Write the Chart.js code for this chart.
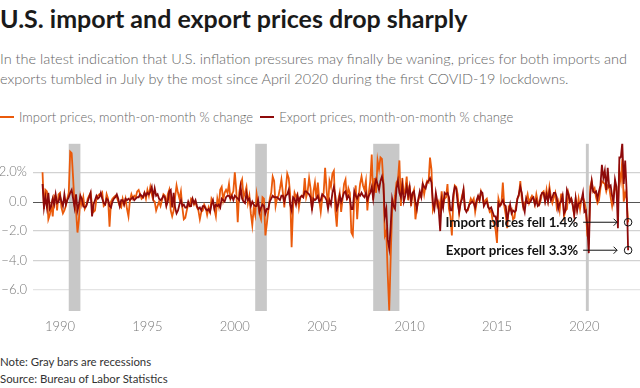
<!DOCTYPE html>
<html><head><meta charset="utf-8">
<script src="https://cdn.jsdelivr.net/npm/chart.js@4"></script>
<style>
html,body{margin:0;padding:0;background:#fff;}
body{width:640px;height:388px;position:relative;overflow:hidden;font-family:Lato, sans-serif;}
#title{position:absolute;left:0;top:3px;font-size:25px;font-weight:700;color:#1a1a1a;white-space:nowrap;}
#sub{position:absolute;left:0;top:49px;font-size:14.5px;font-weight:300;color:#666;line-height:20px;white-space:nowrap;}
#legend{position:absolute;left:0;top:109px;font-size:13px;font-weight:300;color:#666;white-space:nowrap;display:flex;}
.li{display:inline-flex;align-items:center;margin-right:7px}
.sw{display:inline-block;width:14px;height:2px;margin-right:5px}
#notes{position:absolute;left:0;top:353px;font-size:11.4px;color:#333;line-height:17px}
#wrap{position:absolute;left:0;top:130px;width:640px;height:215px}
</style></head>
<body>
<div id="title">U.S. import and export prices drop sharply</div>
<div id="sub">In the latest indication that U.S. inflation pressures may finally be waning, prices for both imports and<br>exports tumbled in July by the most since April 2020 during the first COVID-19 lockdowns.</div>
<div id="legend">
 <span class="li"><span class="sw" style="background:#ea5a0b"></span>Import prices, month-on-month % change</span>
 <span class="li"><span class="sw" style="background:#8e0a0a"></span>Export prices, month-on-month % change</span>
</div>
<div id="wrap"><canvas id="c" width="640" height="215"></canvas></div>
<div id="notes">Note: Gray bars are recessions<br>Source: Bureau of Labor Statistics</div>
<script>
// ---- DATA ----
const startMonth = "1989-01"; // first observation, monthly through July 2022
const importPrices = [
 2.0,-0.5,0.8,0.7,-1.2,-0.9,-0.2,-1.0,0.4,0.3,-0.6,0.5,      // 1989
 0.6,-0.4,-0.8,-0.6,-0.3,0.2,0.6,3.4,3.3,1.6,-0.3,-0.6,      // 1990
 -2.1,-1.2,0.3,-0.2,0.3,-0.5,-0.3,0.2,0.4,0.6,-0.2,-0.7,     // 1991
 -0.6,0.2,0.4,0.5,0.4,0.6,-0.3,-0.2,0.5,0.2,-1.7,0.0,        // 1992
 0.2,0.3,0.4,0.3,0.0,-0.3,-0.4,0.2,-0.2,0.2,-0.5,-1.0,       // 1993
 0.1,0.5,0.2,0.4,0.3,0.7,0.8,0.5,0.2,0.3,0.6,0.2,            // 1994
 0.8,0.4,1.0,0.5,0.1,0.0,-0.6,-0.3,0.0,-0.3,0.1,0.5,         // 1995
 0.4,-0.2,0.5,0.8,-0.6,-1.0,-0.6,0.3,1.1,0.6,0.2,0.7,        // 1996
 -0.4,-1.2,-1.1,-0.6,-0.2,-0.3,0.2,0.1,-0.2,0.0,-0.4,-0.6,   // 1997
 -1.2,-0.7,-0.6,-0.2,-0.4,-0.9,-0.4,-0.7,0.2,0.0,-0.5,-1.0,  // 1998
 0.2,-0.3,0.8,1.0,0.1,0.6,0.8,0.6,1.2,0.2,0.5,0.7,           // 1999
 2.0,0.8,-1.4,0.6,1.2,1.5,0.3,0.6,1.0,-0.1,0.4,-0.8,         // 2000
 -1.6,-0.4,-0.9,0.5,-0.2,-0.9,-1.2,0.3,0.2,-2.3,-1.5,-0.6,   // 2001
 0.2,0.6,1.7,1.4,-0.3,0.2,0.4,0.9,1.5,0.6,-0.4,0.9,          // 2002
 1.9,1.6,0.5,-3.1,-0.4,0.6,0.3,0.5,-0.4,0.3,0.4,0.3,         // 2003
 1.6,0.3,0.7,1.6,0.9,-0.6,0.7,1.3,0.2,1.3,0.1,-0.7,          // 2004
 0.2,0.6,2.3,0.8,-0.4,1.4,1.0,1.9,2.1,-0.6,-1.7,0.1,         // 2005
 0.6,-0.7,0.2,1.2,1.5,0.1,0.9,0.6,-2.1,-2.3,0.3,1.1,         // 2006
 -1.2,0.3,1.2,1.7,1.1,0.8,1.4,-0.6,0.6,1.4,3.2,0.1,          // 2007
 1.6,0.6,2.8,2.2,3.0,2.9,1.3,-2.3,-2.0,-5.0,-7.4,-3.8,       // 2008
 -0.6,-0.2,0.4,1.3,1.5,2.8,-0.3,1.6,0.5,0.8,1.7,0.1,         // 2009
 1.1,-0.3,0.5,0.8,-1.2,-0.4,0.1,0.4,0.3,1.2,0.5,1.1,         // 2010
 1.4,1.3,3.0,2.2,-0.6,-0.3,0.3,-0.3,0.0,-0.6,0.7,-0.2,       // 2011
 0.2,0.3,1.2,-0.5,-1.0,-2.3,0.0,1.1,1.0,0.5,-0.8,-0.1,       // 2012
 0.4,0.8,-0.5,-0.6,-0.6,-0.2,0.2,0.0,0.2,-0.7,-0.1,0.3,      // 2013
 0.1,0.7,0.4,-0.2,0.1,0.2,-0.3,-0.7,-0.6,-1.3,-1.5,-1.9,     // 2014
 -2.8,0.2,-0.2,-0.2,1.3,-0.3,-0.9,-1.8,-0.4,-0.6,-0.5,-1.2,  // 2015
 -1.1,-0.3,0.2,0.4,1.4,0.2,-0.4,-0.1,0.1,0.5,-0.1,0.2,       // 2016
 0.4,0.2,-0.2,0.5,0.0,-0.2,0.1,0.6,0.7,0.1,0.8,0.1,          // 2017
 1.0,0.3,-0.1,0.3,0.6,-0.4,0.0,-0.6,0.5,0.5,-1.0,-0.6,       // 2018
 -0.5,0.6,0.2,0.2,-0.3,-0.9,0.2,-0.5,0.2,-0.5,0.2,0.3,       // 2019
 0.0,-0.5,-2.3,-2.6,1.0,1.4,0.7,0.9,0.3,-0.1,0.1,0.9,        // 2020
 1.4,1.3,1.2,0.7,1.1,1.0,0.3,-0.3,0.4,1.2,0.7,-0.2,          // 2021
 2.0,1.4,2.9,0.0,0.6,0.2,-1.4                                // 2022
];
const exportPrices = [
 1.2,-0.4,0.3,-0.4,0.6,-0.5,-0.3,0.2,-0.2,0.5,-0.1,0.0,      // 1989
 0.4,0.0,-0.3,0.5,-0.2,0.1,0.3,0.6,0.8,0.2,-0.4,0.5,         // 1990
 -0.6,-0.2,0.4,0.2,-0.3,-0.4,-0.3,0.0,0.3,0.6,-1.0,-0.2,     // 1991
 0.1,0.4,0.2,0.3,0.6,0.2,-0.1,-0.2,0.2,0.1,-0.3,-0.4,        // 1992
 0.0,0.2,0.3,0.5,0.2,-0.3,0.1,0.1,-0.2,0.2,0.1,0.2,          // 1993
 0.1,0.2,0.3,0.1,0.2,0.3,0.3,0.5,0.4,0.3,0.6,0.4,            // 1994
 0.6,0.5,0.7,1.0,0.3,0.9,0.4,0.5,0.2,0.1,0.2,0.4,            // 1995
 0.3,-0.3,0.0,0.7,0.8,-0.4,0.6,-0.4,-0.8,-0.6,-0.2,0.1,      // 1996
 -0.3,-0.2,-0.4,-0.4,0.0,-0.3,-0.3,0.2,-0.1,0.1,-0.3,-0.5,   // 1997
 -0.4,-0.6,-0.3,-0.3,-0.5,-0.6,-0.5,-0.7,-0.2,0.1,-0.5,-0.2, // 1998
 -0.3,-0.2,-0.4,0.2,0.1,0.0,0.3,0.4,0.4,0.2,0.4,0.1,         // 1999
 0.4,0.3,0.2,0.1,1.0,0.2,0.0,-0.1,0.6,0.1,0.2,-0.3,          // 2000
 0.0,-0.2,-0.3,-0.3,0.1,-0.7,-0.4,-0.2,-0.3,-0.8,-0.5,-0.5,  // 2001
 0.0,0.2,0.4,0.3,0.3,0.3,0.2,0.1,0.4,0.4,0.0,0.4,            // 2002
 0.5,0.8,-0.2,-0.6,0.3,0.2,-0.2,0.4,0.0,0.3,0.4,0.3,         // 2003
 0.7,0.7,0.6,0.5,0.3,-0.5,0.2,0.1,0.2,0.4,0.0,0.1,           // 2004
 0.5,0.4,0.3,0.1,-0.5,0.1,-0.2,0.6,1.0,0.4,-0.5,-0.2,        // 2005
 0.4,0.0,0.3,0.6,0.7,0.2,0.4,0.2,-0.5,-0.5,0.7,0.4,          // 2006
 0.2,0.5,0.4,0.6,0.4,0.3,0.6,0.1,0.4,0.6,1.0,0.2,            // 2007
 1.1,1.5,1.2,0.8,1.4,1.7,1.2,-1.0,-0.5,-2.6,-3.2,-1.7,       // 2008
 0.2,-0.3,-0.5,0.9,1.4,0.6,0.3,1.1,0.0,0.4,1.0,0.4,          // 2009
 1.0,0.0,0.6,0.7,0.0,-0.5,0.2,0.7,0.3,1.2,1.0,0.9,           // 2010
 1.3,1.4,1.6,1.3,-0.1,-0.5,0.6,0.0,-0.6,-2.0,0.1,-0.4,       // 2011
 0.6,0.5,0.6,0.3,-0.6,-0.6,0.5,1.0,0.9,-0.1,-0.7,-0.1,       // 2012
 0.2,0.8,-0.5,-0.7,-0.5,-0.2,-0.1,0.0,-0.1,-0.4,0.1,0.4,     // 2013
 0.1,0.7,0.6,-0.3,-0.1,0.0,-0.4,-0.5,-0.4,-0.7,-1.0,-1.0,    // 2014
 -1.6,-0.1,-0.3,-0.1,0.1,-0.2,-0.3,-1.3,-0.7,-0.2,-0.8,-0.6, // 2015
 -0.7,-0.6,0.2,0.5,1.0,0.6,-0.3,-0.7,0.2,-0.1,-0.1,0.0,      // 2016
 0.2,0.3,-0.2,0.1,-0.3,-0.2,0.4,0.6,0.6,0.0,0.5,0.0,         // 2017
 0.7,0.1,0.3,0.6,0.6,0.3,-0.5,-0.1,0.0,0.4,-0.8,-0.6,        // 2018
 0.8,0.5,0.0,0.2,-0.2,-0.9,0.2,-0.6,-0.1,-0.1,0.1,0.6,       // 2019
 -0.7,-0.6,-1.6,-3.5,0.5,1.4,0.7,0.6,0.7,0.2,0.7,1.1,        // 2020
 2.5,1.6,2.1,0.8,2.3,1.0,1.1,0.4,0.0,1.5,1.0,-1.8,           // 2021
 3.0,3.0,4.0,1.2,2.8,0.7,-3.3                                // 2022
];
const recessionStarts = ["1990-07","2001-03","2007-12","2020-02"];
const recessionEnds   = ["1991-03","2001-11","2009-06","2020-04"];
const xTickValues = [1990,1995,2000,2005,2010,2015,2020];
const xTickLabels = ["1990","1995","2000","2005","2010","2015","2020"];
const yTickValues = [-6,-4,-2,0,2];
const yTickLabels = ["\u22126.0","\u22124.0","\u22122.0","0.0","2.0%"];
const annotations = [
  {series:"import", text:"Import prices fell 1.4%"},
  {series:"export", text:"Export prices fell 3.3%"}
];
const seriesNames = {import:"Import prices, month-on-month % change", export:"Export prices, month-on-month % change"};

// ---- helpers ----
const IMPORT_COLOR = "#ea5a0b", EXPORT_COLOR = "#8e0a0a";
function ymToDec(s){ const [y,m] = s.split("-").map(Number); return y + (m-1)/12; }
const start = ymToDec(startMonth);
const xOf = i => start + i/12;
const importPts = importPrices.map((v,i)=>({x:xOf(i), y:v}));
const exportPts = exportPrices.map((v,i)=>({x:xOf(i), y:v}));
const seriesPts = {import:importPts, export:exportPts};

const bandsPlugin = {
  id:'bands',
  beforeDatasetsDraw(chart){
    const {ctx, chartArea:a, scales:{x,y}} = chart;
    ctx.save();
    ctx.fillStyle = '#c8c8c8';
    recessionStarts.forEach((s,i)=>{
      const x0 = x.getPixelForValue(ymToDec(s)), x1 = x.getPixelForValue(ymToDec(recessionEnds[i]));
      ctx.fillRect(x0, a.top, x1-x0, a.bottom-a.top);
    });
    const y0 = Math.round(y.getPixelForValue(0)) + 0.5;
    ctx.strokeStyle = '#555'; ctx.lineWidth = 1;
    ctx.beginPath(); ctx.moveTo(a.left, y0); ctx.lineTo(a.right, y0); ctx.stroke();
    ctx.restore();
  }
};
const annotPlugin = {
  id:'annot',
  afterDatasetsDraw(chart){
    const {ctx, scales:{x,y}} = chart;
    ctx.save();
    annotations.forEach(a=>{
      const pts = seriesPts[a.series]; const p = pts[pts.length-1];
      const px = x.getPixelForValue(p.x), py = y.getPixelForValue(p.y);
      ctx.strokeStyle = '#111'; ctx.lineWidth = 1;
      ctx.beginPath(); ctx.arc(px, py, 3.8, 0, Math.PI*2); ctx.stroke();
      ctx.beginPath(); ctx.moveTo(px-45, py); ctx.lineTo(px-11, py); ctx.stroke();
      ctx.beginPath(); ctx.moveTo(px-14.5, py-3.5); ctx.lineTo(px-11, py); ctx.lineTo(px-14.5, py+3.5); ctx.stroke();
      ctx.font = 'bold 13.3px Lato'; ctx.fillStyle = '#111';
      ctx.textAlign = 'right'; ctx.textBaseline = 'middle';
      ctx.fillText(a.text, px-50, py);
    });
    ctx.restore();
  }
};

new Chart(document.getElementById('c'), {
  type:'line',
  data:{datasets:[
    {label:seriesNames.import, data:importPts, borderColor:IMPORT_COLOR, borderWidth:1.8, pointRadius:0, tension:0, order:1},
    {label:seriesNames.export, data:exportPts, borderColor:EXPORT_COLOR, borderWidth:1.8, pointRadius:0, tension:0, order:0}
  ]},
  options:{
    responsive:false, animation:false, maintainAspectRatio:false,
    layout:{padding:{top:10,right:0,bottom:0,left:0}},
    plugins:{legend:{display:false}, tooltip:{enabled:false}},
    scales:{
      x:{type:'linear', min:1988.455, max:2023.18,
         grid:{display:false, drawTicks:false}, border:{display:false},
         afterBuildTicks:s=>{ s.ticks = xTickValues.map(v=>({value:v})); },
         afterFit:s=>{ s.height = 34; },
         ticks:{padding:8, color:'#777', autoSkip:false, maxRotation:0,
                font:{family:'Lato', size:13, weight:300},
                callback:(v)=> xTickLabels[xTickValues.indexOf(v)]}
      },
      y:{min:-7.43, max:3.93,
         grid:{drawTicks:false, lineWidth:1.3, color:c=> c.tick && c.tick.value===0 ? 'rgba(0,0,0,0)' : (c.tick && c.tick.value===-6 ? '#e4e4e4' : '#d2d2d2')},
         border:{display:false},
         afterBuildTicks:s=>{ s.ticks = yTickValues.map(v=>({value:v})); },
         afterFit:s=>{ s.width = 33; },
         ticks:{padding:6, color:'#777', font:{family:'Lato', size:13, weight:300},
                callback:(v)=> yTickLabels[yTickValues.indexOf(v)]}
      }
    }
  },
  plugins:[bandsPlugin, annotPlugin]
});
</script>
</body></html>
